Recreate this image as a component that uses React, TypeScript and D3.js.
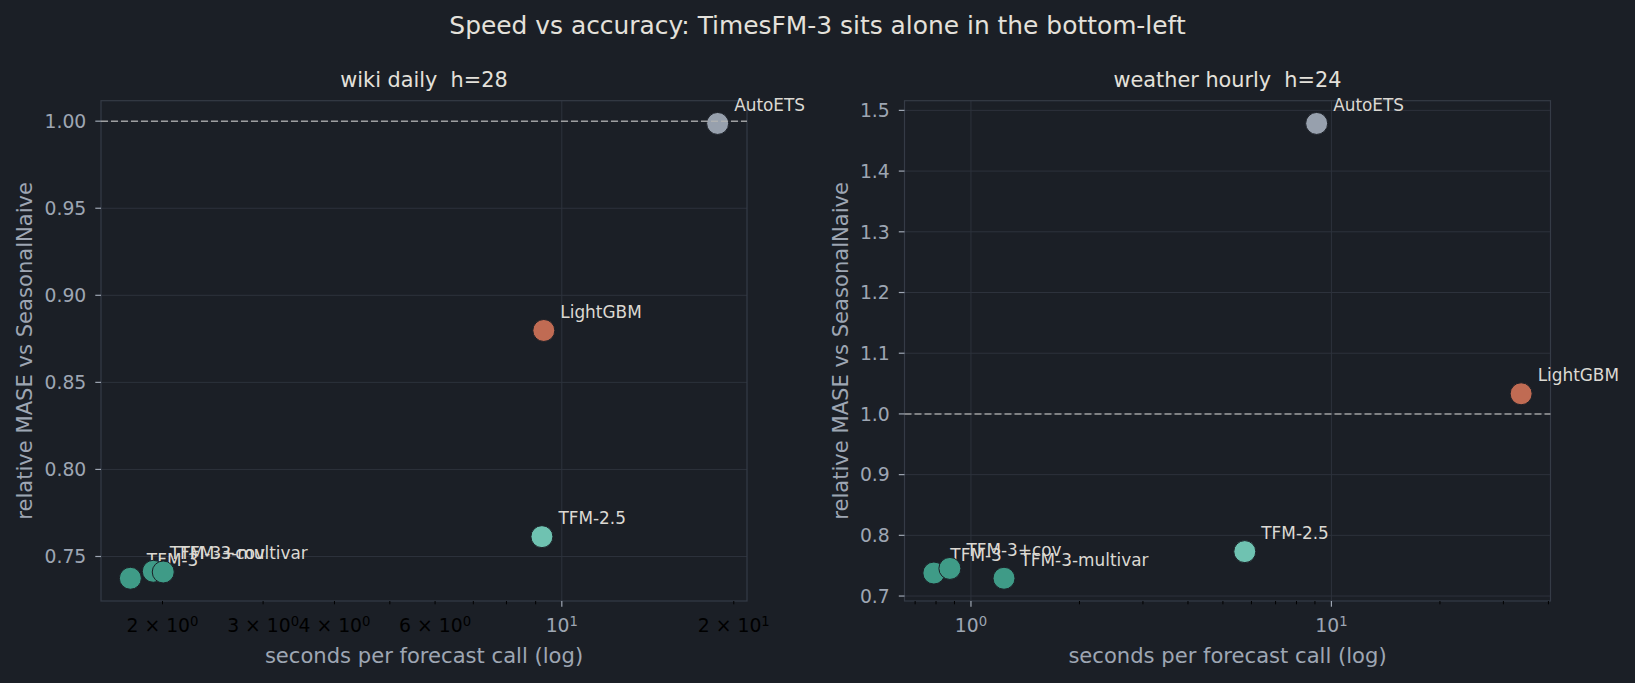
import React, { useEffect, useRef } from 'react';
import * as d3 from 'd3';

// models in draw order (later ones sit on top)
const models = ['TFM-3', 'TFM-3+cov', 'TFM-3-multivar', 'TFM-2.5', 'LightGBM', 'AutoETS'];
const modelColors = ['#3f9b87', '#3f9b87', '#3f9b87', '#6fc2b1', '#c06b53', '#97a0ad'];

// wiki daily h=28
const wikiSeconds = [1.757, 1.927, 2.006, 9.23, 9.3, 18.74];
const wikiMase = [0.7375, 0.7415, 0.7411, 0.7614, 0.8798, 0.9987];
const wikiYTicks = [0.75, 0.8, 0.85, 0.9, 0.95, 1.0];
const wikiMinorLabels = [2, 3, 4, 6, 20];

// weather hourly h=24
const weatherSeconds = [0.789, 0.874, 1.235, 5.75, 33.6, 9.1];
const weatherMase = [0.7379, 0.7455, 0.7293, 0.7732, 1.0332, 1.4785];
const weatherYTicks = [0.7, 0.8, 0.9, 1.0, 1.1, 1.2, 1.3, 1.4, 1.5];
const weatherMinorLabels: number[] = [];

const W = 1635;
const H = 683;
const BG = '#1b1f26';

const App: React.FC = () => {
  const svgRef = useRef<SVGSVGElement | null>(null);

  useEffect(() => {
    document.body.style.margin = '0';
    document.body.style.background = BG;

    const svg = d3.select(svgRef.current)
      .attr('width', W)
      .attr('height', H)
      .style('background', BG)
      .style('font-family', '"DejaVu Sans", sans-serif');

    svg.selectAll('*').remove();

    svg.append('text')
      .attr('x', W / 2)
      .attr('y', 34)
      .attr('text-anchor', 'middle')
      .style('font-size', '24.9px')
      .style('fill', '#e4e1db')
      .text('Speed vs accuracy: TimesFM-3 sits alone in the bottom-left');

    const panels = [
      { title: 'wiki daily  h=28', left: 101, seconds: wikiSeconds, mase: wikiMase, yTicks: wikiYTicks, yFmt: d3.format('.2f'), minorLabels: wikiMinorLabels, ylabX: 31.5 },
      { title: 'weather hourly  h=24', left: 904.5, seconds: weatherSeconds, mase: weatherMase, yTicks: weatherYTicks, yFmt: d3.format('.1f'), minorLabels: weatherMinorLabels, ylabX: 848 },
    ];

    const top = 100.7;
    const bottom = 601;
    const pw = 646;

    panels.forEach((p) => {
      const g = svg.append('g');
      const right = p.left + pw;

      // matplotlib-style 5% margins (log space for x)
      const lx = d3.extent(p.seconds.map(Math.log10)) as [number, number];
      const sx = lx[1] - lx[0];
      const x = d3.scaleLog()
        .domain([10 ** (lx[0] - 0.05 * sx), 10 ** (lx[1] + 0.05 * sx)])
        .range([p.left, right]);

      const ly = d3.extent(p.mase) as [number, number];
      const sy = ly[1] - ly[0];
      const y = d3.scaleLinear()
        .domain([ly[0] - 0.05 * sy, ly[1] + 0.05 * sy])
        .range([bottom, top]);

      const allX = x.ticks();
      const majors = allX.filter((t) => Math.abs(Math.log10(t) - Math.round(Math.log10(t))) < 1e-9);
      const minors = allX.filter((t) => !majors.includes(t));

      // grid
      g.selectAll('.ygrid')
        .data(p.yTicks)
        .join('line')
        .attr('x1', p.left)
        .attr('x2', right)
        .attr('y1', (d) => y(d))
        .attr('y2', (d) => y(d))
        .attr('stroke', '#2d323c')
        .attr('stroke-width', 1);

      g.selectAll('.xgrid')
        .data(majors)
        .join('line')
        .attr('x1', (d) => x(d))
        .attr('x2', (d) => x(d))
        .attr('y1', top)
        .attr('y2', bottom)
        .attr('stroke', '#2d323c')
        .attr('stroke-width', 1);

      // spines
      g.append('rect')
        .attr('x', p.left)
        .attr('y', top)
        .attr('width', pw)
        .attr('height', bottom - top)
        .attr('fill', 'none')
        .attr('stroke', '#353b46')
        .attr('stroke-width', 1.2);

      // y ticks
      p.yTicks.forEach((t) => {
        g.append('line')
          .attr('x1', p.left - 5.7)
          .attr('x2', p.left)
          .attr('y1', y(t))
          .attr('y2', y(t))
          .attr('stroke', '#9ea6b3')
          .attr('stroke-width', 1.2);
        g.append('text')
          .attr('x', p.left - 14.7)
          .attr('y', y(t))
          .attr('dy', '0.36em')
          .attr('text-anchor', 'end')
          .style('font-size', '18.8px')
          .style('fill', '#9ea6b3')
          .text(p.yFmt(t));
      });

      // x ticks
      majors.forEach((t) => {
        g.append('line')
          .attr('x1', x(t))
          .attr('x2', x(t))
          .attr('y1', bottom)
          .attr('y2', bottom + 5.7)
          .attr('stroke', '#9ea6b3')
          .attr('stroke-width', 1.2);
        const txt = g.append('text')
          .attr('x', x(t))
          .attr('y', 632)
          .attr('text-anchor', 'middle')
          .style('font-size', '18.8px')
          .style('fill', '#9ea6b3');
        txt.append('tspan').text('10');
        txt.append('tspan')
          .attr('dy', '-0.42em')
          .style('font-size', '13.2px')
          .text(String(Math.round(Math.log10(t))));
      });

      minors.forEach((t) => {
        g.append('line')
          .attr('x1', x(t))
          .attr('x2', x(t))
          .attr('y1', bottom)
          .attr('y2', bottom + 3.3)
          .attr('stroke', '#000000')
          .attr('stroke-width', 1);
      });

      p.minorLabels.forEach((t) => {
        const e = Math.floor(Math.log10(t) + 1e-9);
        const m = Math.round(t / 10 ** e);
        const txt = g.append('text')
          .attr('x', x(t))
          .attr('y', 632)
          .attr('text-anchor', 'middle')
          .style('font-size', '18.8px')
          .style('fill', '#000000')
          .style('white-space', 'pre');
        txt.append('tspan').text(`${m} × 10`);
        txt.append('tspan')
          .attr('dy', '-0.42em')
          .style('font-size', '13.2px')
          .text(String(e));
      });

      // points + labels
      models.forEach((name, i) => {
        g.append('circle')
          .attr('cx', x(p.seconds[i]))
          .attr('cy', y(p.mase[i]))
          .attr('r', 11)
          .attr('fill', modelColors[i])
          .attr('stroke', BG)
          .attr('stroke-width', 1);
        g.append('text')
          .attr('x', x(p.seconds[i]) + 16.5)
          .attr('y', y(p.mase[i]) - 12.5)
          .style('font-size', '16.9px')
          .style('fill', '#dcd9d3')
          .text(name);
      });

      // reference line at 1.0 (above the markers, as in matplotlib)
      g.append('line')
        .attr('x1', p.left)
        .attr('x2', right)
        .attr('y1', y(1))
        .attr('y2', y(1))
        .attr('stroke', '#b4b4b4')
        .attr('stroke-width', 1.5)
        .attr('stroke-dasharray', '7,3')
        .attr('opacity', 0.85);

      // titles and axis labels
      g.append('text')
        .attr('x', p.left + pw / 2)
        .attr('y', 87)
        .attr('text-anchor', 'middle')
        .style('font-size', '20.8px')
        .style('fill', '#e4e1db')
        .style('white-space', 'pre')
        .text(p.title);

      g.append('text')
        .attr('x', p.left + pw / 2)
        .attr('y', 663)
        .attr('text-anchor', 'middle')
        .style('font-size', '21.1px')
        .style('fill', '#9ea6b3')
        .text('seconds per forecast call (log)');

      g.append('text')
        .attr('transform', `translate(${p.ylabX},${(top + bottom) / 2}) rotate(-90)`)
        .attr('text-anchor', 'middle')
        .style('font-size', '21.1px')
        .style('fill', '#9ea6b3')
        .text('relative MASE vs SeasonalNaive');
    });
  }, []);

  return <svg ref={svgRef} style={{ display: 'block' }}></svg>;
};

export default App;
